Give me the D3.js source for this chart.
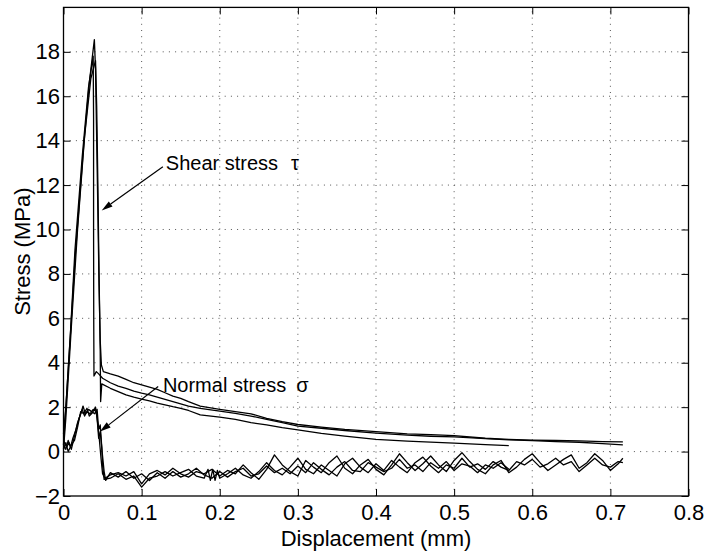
<!DOCTYPE html>
<html>
<head>
<meta charset="utf-8">
<script src="https://cdn.jsdelivr.net/npm/d3@7"></script>
<style>
  body { margin: 0; background: #fff; }
  svg { display: block; font-family: "Liberation Sans", Arial, Helvetica, sans-serif; }
  .tick text { font-size: 22px; fill: #000; }
  .grid line { stroke: #555; stroke-width: 1; stroke-dasharray: 1 5.2; }
  .curve { fill: none; stroke: #000; stroke-width: 1.3; stroke-linejoin: round; }
</style>
</head>
<body>
<svg id="chart" width="708" height="553"></svg>
<script>
// axis ticks
const xTicks = [0, 0.1, 0.2, 0.3, 0.4, 0.5, 0.6, 0.7, 0.8];
const xTickLabels = ["0", "0.1", "0.2", "0.3", "0.4", "0.5", "0.6", "0.7", "0.8"];
const yTicks = [-2, 0, 2, 4, 6, 8, 10, 12, 14, 16, 18];
const yTickLabels = ["\u22122", "0", "2", "4", "6", "8", "10", "12", "14", "16", "18"];

// shear stress, three tests [displacement mm, stress MPa]
const shear1 = [[0,0.3],[0.002,1.4],[0.008,4.8],[0.015,8.8],[0.025,13.4],[0.033,16.6],[0.0395,18.55],
  [0.041,17.2],[0.0425,14],[0.044,10.8],[0.0455,7.5],[0.047,5],[0.0485,3.9],[0.051,3.6],
  [0.06,3.5],[0.07,3.4],[0.08,3.25],[0.09,3.1],[0.1,3.0],[0.11,2.9],[0.12,2.8],[0.13,2.65],[0.14,2.5],
  [0.15,2.4],[0.16,2.25],[0.175,2.05],[0.2,1.9],[0.22,1.8],[0.24,1.7],[0.26,1.5],[0.28,1.35],[0.3,1.22],
  [0.33,1.1],[0.36,1.0],[0.4,0.9],[0.44,0.8],[0.47,0.76],[0.5,0.72],[0.54,0.6],[0.57,0.55],[0.6,0.52],
  [0.63,0.5],[0.66,0.48],[0.69,0.45],[0.716,0.44]];
const shear2 = [[0,0.8],[0.003,2.0],[0.009,5.4],[0.0147,9.1],[0.024,13.3],[0.032,16.4],[0.038,17.8],
  [0.0385,15],[0.0385,10],[0.0387,6],[0.039,3.4],[0.042,3.6],[0.045,3.5],[0.05,3.3],
  [0.06,3.1],[0.07,2.95],[0.08,2.85],[0.09,2.72],[0.1,2.63],[0.11,2.55],[0.12,2.45],[0.13,2.35],[0.14,2.25],
  [0.15,2.15],[0.16,2.05],[0.175,1.95],[0.2,1.82],[0.22,1.72],[0.24,1.6],[0.26,1.45],[0.28,1.3],[0.3,1.15],
  [0.33,1.05],[0.36,0.95],[0.4,0.83],[0.44,0.74],[0.47,0.69],[0.5,0.66],[0.54,0.58],[0.57,0.53],[0.6,0.49],
  [0.63,0.45],[0.66,0.42],[0.69,0.36],[0.716,0.3]];
const shear3 = [[0,0.1],[0.003,1.5],[0.01,5.6],[0.018,10.0],[0.027,14.2],[0.035,16.8],[0.041,17.6],
  [0.0425,15.5],[0.044,12],[0.0455,8],[0.047,4.5],[0.0475,2.25],[0.049,3.05],
  [0.06,2.85],[0.07,2.7],[0.08,2.55],[0.09,2.45],[0.1,2.36],[0.11,2.28],[0.12,2.18],[0.13,2.1],[0.14,2.02],
  [0.15,1.95],[0.16,1.85],[0.175,1.65],[0.2,1.55],[0.22,1.45],[0.24,1.3],[0.26,1.2],[0.28,1.08],[0.3,0.98],
  [0.33,0.82],[0.36,0.7],[0.4,0.55],[0.44,0.47],[0.47,0.43],[0.5,0.38],[0.54,0.31],[0.57,0.27]];

// normal stress, three tests
const normal1 = [[0,0.3],[0.003,0.1],[0.006,0.5],[0.009,0.2],[0.012,0.6],[0.016,1.0],[0.02,1.5],[0.024,1.9],
  [0.027,1.6],[0.03,1.8],[0.034,1.7],[0.038,1.9],[0.042,1.8],[0.044,1.2],[0.046,0.5],[0.048,-0.3],[0.05,-1.0],[0.053,-1.2],
  [0.06,-1.05],[0.07,-0.95],[0.08,-1.1],[0.09,-0.9],[0.10,-1.45],[0.11,-1.0],[0.12,-0.85],[0.13,-1.05],[0.14,-0.75],
  [0.15,-1.0],[0.16,-1.15],[0.17,-0.9],[0.18,-1.0],[0.19,-0.8],[0.20,-1.1],[0.21,-0.85],[0.22,-1.0],[0.23,-0.6],
  [0.24,-0.95],[0.25,-1.25],[0.26,-0.8],[0.27,-0.15],[0.28,-0.6],[0.29,-0.9],[0.30,-1.1],[0.31,-0.4],[0.32,-0.7],
  [0.33,-0.95],[0.34,-0.5],[0.35,-0.2],[0.36,-0.75],[0.37,-1.0],[0.38,-0.6],[0.39,-0.35],[0.40,-0.8],[0.41,-1.05],
  [0.42,-0.6],[0.43,-0.1],[0.44,-0.5],[0.45,-0.85],[0.46,-0.55],[0.47,-0.2],[0.48,-0.6],[0.49,-0.9],[0.50,-0.4],
  [0.51,-0.05],[0.52,-0.45],[0.53,-0.8],[0.54,-1.0],[0.55,-0.6],[0.56,-0.4],[0.57,-0.95],[0.58,-0.7],[0.59,-0.35],
  [0.60,-0.1],[0.61,-0.5],[0.62,-0.85],[0.63,-0.6],[0.64,-0.35],[0.65,-0.15],[0.66,-0.75],[0.67,-0.5],[0.68,-0.1],
  [0.69,-0.4],[0.70,-0.85],[0.71,-0.55],[0.716,-0.3]];
const normal2 = [[0,0.5],[0.004,0.2],[0.007,0.4],[0.01,0.1],[0.014,0.7],[0.018,1.3],[0.022,1.7],[0.025,2.05],
  [0.028,1.7],[0.032,1.9],[0.036,1.8],[0.04,1.7],[0.043,1.9],[0.045,1.0],[0.047,1.2],[0.049,0.2],[0.05,-0.6],[0.052,-1.25],
  [0.06,-1.2],[0.07,-1.0],[0.08,-1.25],[0.09,-1.1],[0.10,-1.6],[0.11,-1.2],[0.12,-1.1],[0.13,-0.9],[0.14,-1.1],
  [0.15,-0.95],[0.16,-0.8],[0.17,-1.1],[0.18,-1.2],[0.185,-0.8],[0.188,-1.3],[0.191,-0.8],[0.194,-1.3],[0.197,-0.85],
  [0.20,-1.2],[0.21,-1.0],[0.22,-0.75],[0.23,-1.05],[0.24,-1.2],[0.25,-0.9],[0.26,-0.5],[0.27,-0.85],[0.28,-1.05],
  [0.29,-0.7],[0.30,-0.3],[0.31,-0.8],[0.32,-1.0],[0.33,-0.6],[0.34,-0.85],[0.35,-1.1],[0.36,-0.55],[0.37,-0.3],
  [0.38,-0.7],[0.39,-0.95],[0.40,-0.55],[0.41,-0.85],[0.42,-0.4],[0.43,-0.7],[0.44,-0.95],[0.45,-0.5],[0.46,-0.25],
  [0.47,-0.65],[0.48,-0.95],[0.49,-0.6],[0.50,-0.75],[0.51,-0.3],[0.52,-0.7],[0.53,-0.55],[0.54,-0.8],[0.55,-0.45],
  [0.56,-0.7],[0.57,-0.85],[0.58,-0.45],[0.59,-0.6],[0.60,-0.35],[0.61,-0.7],[0.62,-0.55],[0.63,-0.3],[0.64,-0.6],
  [0.65,-0.45],[0.66,-0.9],[0.67,-0.6],[0.68,-0.3],[0.69,-0.6],[0.70,-0.7],[0.71,-0.45],[0.716,-0.5]];
const normal3 = [[0,0.1],[0.003,0.4],[0.006,0.0],[0.01,0.3],[0.014,0.5],[0.018,1.1],[0.022,1.8],[0.026,1.7],
  [0.03,1.95],[0.033,1.6],[0.037,1.75],[0.041,2.0],[0.043,1.5],[0.045,0.6],[0.047,0.9],[0.05,-0.2],[0.052,-0.9],[0.054,-1.3],
  [0.06,-0.95],[0.07,-1.15],[0.08,-0.9],[0.09,-1.2],[0.10,-1.0],[0.11,-1.3],[0.12,-0.95],[0.13,-1.2],[0.14,-0.9],
  [0.15,-1.15],[0.16,-1.0],[0.17,-0.75],[0.18,-1.05],[0.19,-1.2],[0.20,-0.9],[0.21,-1.15],[0.22,-0.9],[0.23,-0.75],
  [0.24,-1.1],[0.25,-1.0],[0.26,-0.65],[0.27,-0.95],[0.28,-0.75],[0.29,-1.0],[0.30,-0.65],[0.31,-0.95],[0.32,-0.5],
  [0.33,-0.8],[0.34,-1.05],[0.35,-0.7],[0.36,-0.45],[0.37,-0.85],[0.38,-0.9],[0.39,-0.5],[0.40,-0.7],[0.41,-0.9],
  [0.42,-0.75],[0.43,-0.35],[0.44,-0.75],[0.45,-0.6],[0.46,-0.9],[0.47,-0.5],[0.48,-0.75],[0.49,-0.45],[0.50,-0.85],
  [0.51,-0.55],[0.52,-0.65],[0.53,-0.95],[0.54,-0.6],[0.55,-0.75],[0.56,-0.5],[0.57,-0.8]];

// annotations: text anchor and arrow (from -> tip), in data units
const notes = [
  { label: "Shear stress", greek: "\u03C4", text: [0.131, 12.69], from: [0.1272, 12.83], tip: [0.0489, 10.86], gap: 13 },
  { label: "Normal stress", greek: "\u03C3", text: [0.1272, 2.70], from: [0.1212, 2.93], tip: [0.0467, 0.90], gap: 10 }
];

let svg = d3.select('#chart');

let x = d3.scaleLinear().domain([0, 0.8]).range([63.5, 688.5]);
let y = d3.scaleLinear().domain([-2, 20]).range([496, 7.4]);

// Grid
let grid = svg.append('g').attr('class', 'grid');
grid.selectAll('.gx')
  .data(xTicks.filter(d => d > 0 && d < 0.8))
  .join('line')
    .attr('x1', d => x(d)).attr('x2', d => x(d))
    .attr('y1', y(-2)).attr('y2', y(20));
grid.selectAll('.gy')
  .data(yTicks.filter(d => d > -2))
  .join('line')
    .attr('class', 'gy')
    .attr('x1', x(0)).attr('x2', x(0.8))
    .attr('y1', d => y(d)).attr('y2', d => y(d));

// Curves
let line = d3.line().x(d => x(d[0])).y(d => y(d[1]));
svg.append('g')
  .selectAll('path')
  .data([shear1, shear2, shear3, normal1, normal2, normal3])
  .join('path')
    .attr('class', 'curve')
    .attr('d', line);

// Axes, ticks inward like the original
let fmtX = d => xTickLabels[xTicks.indexOf(d)];
let fmtY = d => yTickLabels[yTicks.indexOf(d)];

svg.append('g')
  .attr('transform', `translate(0,${y(-2)})`)
  .call(d3.axisBottom(x).tickValues(xTicks).tickFormat(fmtX).tickSizeInner(-7).tickSizeOuter(0).tickPadding(8.5));
svg.append('g')
  .attr('transform', `translate(0,${y(20)})`)
  .call(d3.axisTop(x).tickValues(xTicks).tickFormat('').tickSizeInner(-7).tickSizeOuter(0));
svg.append('g')
  .attr('transform', `translate(${x(0)},0)`)
  .call(d3.axisLeft(y).tickValues(yTicks).tickFormat(fmtY).tickSizeInner(-7).tickSizeOuter(0).tickPadding(3.5));
svg.append('g')
  .attr('transform', `translate(${x(0.8)},0)`)
  .call(d3.axisRight(y).tickValues(yTicks).tickFormat('').tickSizeInner(-7).tickSizeOuter(0));

svg.selectAll('.domain').remove();
svg.selectAll('.tick line').attr('stroke', '#000').attr('stroke-width', 1);
svg.selectAll('.tick text').attr('font-family', null).attr('font-size', null);

// Box
svg.append('rect')
  .attr('x', x(0)).attr('y', y(20))
  .attr('width', x(0.8) - x(0)).attr('height', y(-2) - y(20))
  .attr('fill', 'none').attr('stroke', '#000').attr('stroke-width', 1.3);

// Axis labels
svg.append('text')
  .attr('x', (x(0) + x(0.8)) / 2).attr('y', 545.5)
  .attr('text-anchor', 'middle')
  .style('font-size', '22px')
  .text('Displacement (mm)');

svg.append('text')
  .attr('transform', `translate(30,${(y(-2) + y(20)) / 2}) rotate(-90)`)
  .attr('text-anchor', 'middle')
  .style('font-size', '22px')
  .text('Stress (MPa)');

// Annotations
notes.forEach(n => {
  let t = svg.append('text')
    .attr('x', x(n.text[0])).attr('y', y(n.text[1]))
    .style('font-size', '20px');
  t.append('tspan').text(n.label);
  t.append('tspan').attr('dx', n.gap).text(n.greek);

  let x1 = x(n.from[0]), y1 = y(n.from[1]), x2 = x(n.tip[0]), y2 = y(n.tip[1]);
  let ang = Math.atan2(y2 - y1, x2 - x1);
  let len = 11, hw = 3.2;
  let bx = x2 - len * Math.cos(ang), by = y2 - len * Math.sin(ang);
  svg.append('line')
    .attr('x1', x1).attr('y1', y1).attr('x2', bx).attr('y2', by)
    .attr('stroke', '#000').attr('stroke-width', 1.2);
  svg.append('path')
    .attr('d', `M${x2},${y2} L${bx + hw * Math.sin(ang)},${by - hw * Math.cos(ang)} L${bx - hw * Math.sin(ang)},${by + hw * Math.cos(ang)} Z`)
    .attr('fill', '#000');
});
</script>
</body>
</html>
